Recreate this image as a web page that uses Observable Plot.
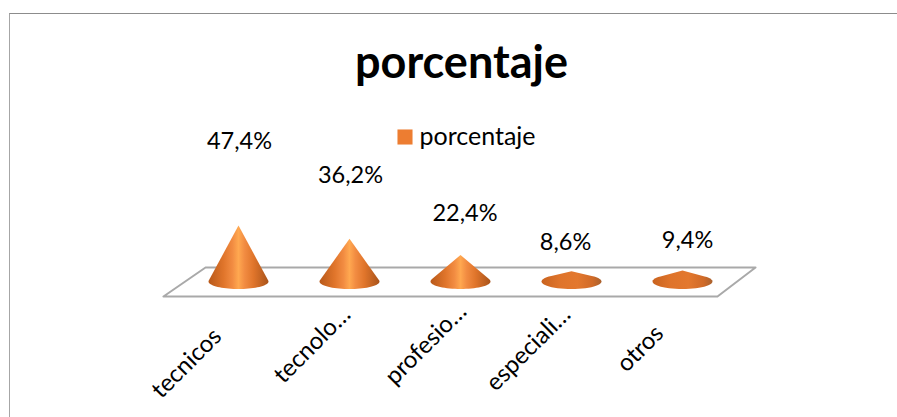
<!DOCTYPE html>
<html><head><meta charset="utf-8">
<script src="https://cdn.jsdelivr.net/npm/d3@7"></script>
<script src="https://cdn.jsdelivr.net/npm/@observablehq/plot@0.6"></script>
<style>
html,body{margin:0;padding:0;background:#fff}
#wrap{position:relative;width:897px;height:417px;overflow:hidden}
#edge{position:absolute;left:9px;top:13px;width:900px;height:420px;border-top:1.5px solid #8c8c8c;border-left:1.5px solid #a6a6a6}
#chart{position:absolute;left:0;top:0}
svg{background:transparent!important}
</style></head><body>
<div id="wrap"><div id="edge"></div><div id="chart"></div></div>
<script>
const categories = ["tecnicos","tecnolo…","profesio…","especiali…","otros"];
const values = [47.4,36.2,22.4,8.6,9.4];
const valueLabels = ["47,4%","36,2%","22,4%","8,6%","9,4%"];
const floorX = [-0.676,-0.297,4.658,4.315,-0.676];
const floorY = [-12.7,11.9,11.9,-12.7,-12.7];
const labelDx = [1,1,4.5,-6,5];
const labelDy = [-84,-63,-42,-29,-30];
const tickDx = [-21,-3,2,-5,-23];
const tickDy = [32,10,7,10,29];
const rows = categories.map((c,i)=>({i,c,v:values[i],t:valueLabels[i]}));
const font = "Lato, Carlito, sans-serif";
const cone = {
  draw(ctx,l,r){
    const a=r, b=r*0.25, h=Math.max(l,b*1.02);
    const yt=b*b/h, xt=a*Math.sqrt(1-(b*b)/(h*h));
    ctx.moveTo(0,-h);
    ctx.lineTo(xt,-yt);
    const steps=40, t0=Math.atan2(-yt/b,xt/a), t1=Math.PI-t0;
    for(let k=1;k<=steps;k++){const t=t0+(t1-t0)*k/steps;ctx.lineTo(a*Math.cos(t),b*Math.sin(t));}
    ctx.closePath();
  }
};
const plot = Plot.plot({
  width:897,height:417,
  marginTop:0,marginLeft:0,marginRight:0,marginBottom:117,
  style:{fontFamily:font,background:"transparent",overflow:"visible"},
  x:{type:"linear",domain:[0,4],range:[238,682],axis:null},
  y:{domain:[0,50],range:[281,222],axis:null},
  length:{type:"linear",domain:[0,50],range:[0,59]},
  marks:[
    Plot.line(floorX.map((x,i)=>({x,y:floorY[i]})),{x:"x",y:"y",stroke:"#a9a9a9",strokeWidth:2}),
    Plot.vector(rows,{x:"i",y:()=>0,length:"v",rotate:0,anchor:"start",shape:cone,r:30,stroke:"none",fill:d=>d.v<15?"url(#coneFlat)":"url(#coneTall)"}),
    ...rows.map((d,k)=>Plot.text([d],{x:"i",y:"v",text:"t",dx:labelDx[k],dy:labelDy[k],fontSize:23.5,fill:"#000"})),
    ...rows.map((d,k)=>Plot.axisX({ticks:[d.i],tickFormat:i=>categories[i],tickSize:0,tickPadding:0,tickRotate:-45,textAnchor:"end",fontSize:24,label:null,dx:tickDx[k],dy:tickDy[k],fill:"#000"})),
    Plot.text(["porcentaje"],{frameAnchor:"top",dx:12.5,dy:46,lineAnchor:"top",fontSize:45,fontWeight:700,fill:"#000"}),
    Plot.dot(["porcentaje"],{frameAnchor:"top-left",dx:404.5,dy:136.5,symbol:"square",r:8.5,fill:"#ed7d31"}),
    Plot.text(["porcentaje"],{frameAnchor:"top-left",dx:419,dy:136,textAnchor:"start",lineAnchor:"middle",fontSize:25,fill:"#000"})
  ]
});
const defs=d3.select(plot).insert("defs",":first-child");
function grad(id,stops){
  const g=defs.append("linearGradient").attr("id",id).attr("x1",0).attr("x2",1).attr("y1",0).attr("y2",0);
  stops.forEach(([o,c])=>g.append("stop").attr("offset",o).attr("stop-color",c));
}
grad("coneTall",[[0,"#b8591a"],[0.25,"#e0752b"],[0.4,"#f28c42"],[0.5,"#ffa850"],[0.6,"#f28c42"],[0.75,"#e0752b"],[1,"#a9531a"]]);
grad("coneFlat",[[0,"#c9631f"],[0.3,"#df742b"],[0.6,"#e3782e"],[0.85,"#d06a28"],[1,"#a9612e"]]);
document.getElementById("chart").appendChild(plot);
</script>
</body></html>
